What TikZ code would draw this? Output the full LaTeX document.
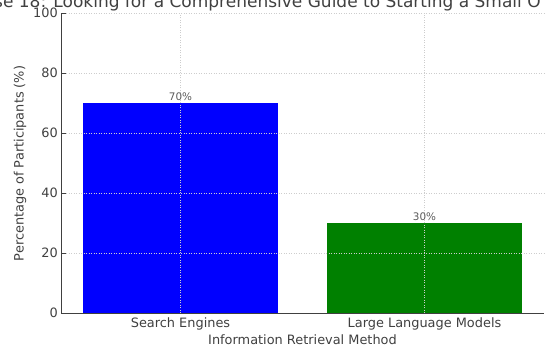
\documentclass[tikz,border=0pt]{standalone}
\usepackage{fontspec}
\setmainfont{DejaVu Sans}
\usetikzlibrary{positioning}
\definecolor{axisgray}{RGB}{64,64,64}
\definecolor{valuegray}{RGB}{90,90,90}
\definecolor{gridgray}{RGB}{205,205,205}
\definecolor{bargreen}{RGB}{0,128,0}
\newcommand{\widthbar}{195pt}
\newcommand{\ticklen}{4.5}
\tikzset{
    axistext/.style={text=axisgray, font=\fontsize{12.9}{15}\selectfont, inner sep=0pt},
    ticktext/.style={axistext, anchor=east},
    valuetext/.style={text=valuegray, font=\fontsize{10.4}{12}\selectfont, inner sep=0pt},
    titletext/.style={axistext, font=\fontsize{17}{20}\selectfont, anchor=base west},
    bar/.style={anchor=south, rectangle, inner sep=0pt, outer sep=0pt, minimum width=\widthbar},
    spine/.style={axisgray, line width=0.9pt},
    gridline/.style={gridgray, line width=0.6pt, dash pattern=on 1pt off 1.5pt},
    tickmark/.style={axisgray, line width=0.8pt}
}

\begin{document}
\begin{tikzpicture}[x=1pt,y=1pt]
                \useasboundingbox (0,0) rectangle (546,354);
                \clip (0,0) rectangle (546,354);
                \coordinate (O) at (61,40.7);
                \coordinate (E) at (544,40.7);
                \coordinate (T) at (61,340.7);

                \node[bar, fill=blue, minimum height=210pt] (engines) at (180.5,40.7) {};
                \node[bar, fill=bargreen, minimum height=90pt] (llms) at (424.5,40.7) {};

                \draw[gridline] (61,100.7) -- (544,100.7) (61,160.7) -- (544,160.7)
                    (61,220.7) -- (544,220.7) (61,280.7) -- (544,280.7) (T) -- (544,340.7);
                \draw[gridline] (engines.south) -- (engines.south |- T) (llms.south) -- (llms.south |- T);

                \draw[tickmark] (O) -- ++(\ticklen,0) (61,100.7) -- ++(\ticklen,0) (61,160.7) -- ++(\ticklen,0)
                    (61,220.7) -- ++(\ticklen,0) (61,280.7) -- ++(\ticklen,0) (T) -- ++(\ticklen,0);
                \draw[spine] (T) -- (O) -- (E);

                \path
                    node[ticktext] (y0) at (58,40.7) {0}
                    node[ticktext] (y20) at (58,100.7) {20}
                    node[ticktext] (y40) at (58,160.7) {40}
                    node[ticktext] (y60) at (58,220.7) {60}
                    node[ticktext] (y80) at (58,280.7) {80}
                    node[ticktext] (y100) at (58,340.7) {100};

                \node[valuetext, above=2pt of engines] (enginesval) {70\%};
                \node[valuetext, above=2pt of llms] (llmsval) {30\%};
                \node[axistext, below=4.5pt of engines] (engineslab) {Search Engines};
                \node[axistext, below=4.5pt of llms] (llmslab) {Large Language Models};

                \node[axistext, anchor=base] (xtitle) at (302.5,9.5) {Information Retrieval Method};
                \node[axistext, rotate=90] (ytitle) at (20,190.5) {Percentage of Participants (\%)};
                \node[titletext] (title) at (-6,346.5) {se 18: Looking for a Comprehensive Guide to Starting a Small O};

            \end{tikzpicture}
\end{document}
